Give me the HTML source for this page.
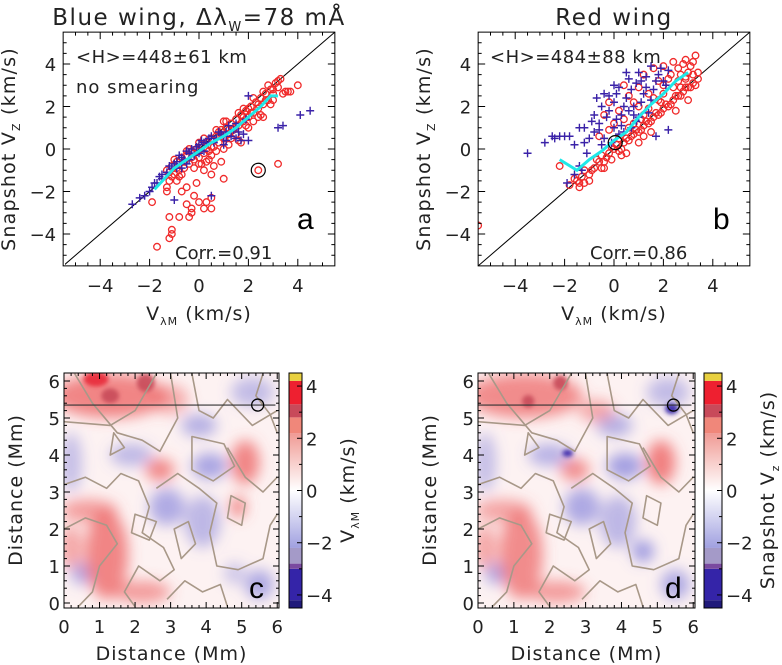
<!DOCTYPE html>
<html><head><meta charset="utf-8"><style>
html,body{margin:0;padding:0;background:#fff;}
svg{display:block;font-family:"DejaVu Sans","Liberation Sans",sans-serif;}
</style></head><body>
<svg id="fig" width="782" height="665" viewBox="0 0 782 665" xmlns="http://www.w3.org/2000/svg">
<defs>
<filter id="blur" x="-50%" y="-50%" width="200%" height="200%"><feGaussianBlur stdDeviation="7"/></filter>
<filter id="blur2" x="-50%" y="-50%" width="200%" height="200%"><feGaussianBlur stdDeviation="2"/></filter>
<clipPath id="clipc"><rect x="64" y="373" width="215" height="235"/></clipPath>
<clipPath id="clipd"><rect x="478" y="373" width="217" height="235"/></clipPath>
<clipPath id="clipa"><rect x="65" y="32" width="271" height="234"/></clipPath>
<clipPath id="clipb"><rect x="478" y="32" width="272" height="234"/></clipPath>
</defs>
<g id="root"></g>
</svg>
<script>
// ---- scatter data ----
const redA=[[-1.3,-1.0],[-1.2,-1.5],[-1.1,-0.8],[-1.0,-1.2],[-0.9,-0.6],[-0.8,-1.0],[-0.7,-0.4],[-0.6,-0.9],[-0.5,-0.3],[-0.4,-0.7],[-0.3,-0.1],[-0.2,-0.5],[-0.1,0.0],[0,-0.4],[0.1,0.2],[0.2,-0.2],[0.3,0.3],[0.4,-0.1],[0.5,0.5],[0.6,0.1],[0.7,0.6],[0.8,0.3],[0.9,0.9],[1.0,0.5],[1.1,1.0],[1.2,0.7],[1.3,1.2],[1.4,0.9],[1.5,1.4],[1.6,1.1],[1.7,1.6],[1.8,1.3],[1.9,1.8],[2.0,1.5],[2.1,2.0],[2.2,1.7],[2.3,2.2],[2.4,1.9],[2.5,2.4],[2.6,2.1],[2.7,2.6],[2.8,2.3],[2.9,2.8],[3.0,2.6],[3.1,3.1],[3.2,2.9],[3.3,3.3],[3.5,2.7],[3.7,2.7],[4.0,3.0],[1.0,1.3],[0.0,0.3],[-0.5,-0.1],[0.5,-0.3],[1.5,0.7],[2.0,1.0],[2.5,1.6],[-0.2,-0.2],[0.8,0.8],[1.8,1.9],[2.8,3.0],[0.3,-0.6],[-0.8,-1.3],[-1.3,-1.8],[-0.5,-1.8],[-0.7,-2.0],[-0.3,-2.8],[0,-2.5],[0.3,-2.5],[0.5,-2.3],[0.5,-2.8],[-0.5,-2.6],[-0.4,-3.2],[-0.8,-3.2],[-0.3,-3.0],[0.2,-2.8],[-1.2,-3.2],[-1.1,-3.8],[-1.1,-4.0],[-1.2,-4.2],[-1.7,-4.6],[-1.9,-2.5],[0.5,-1.2],[1.0,-1.4],[0.6,-0.8],[-0.1,-1.6],[3.2,-0.7],[2.4,-1.0],[-1.3,-2.0],[0.9,-0.6],[1.7,0.3],[2.2,1.3],[0.2,-1.0],[-0.2,-2.2],[1.2,0.2],[2.6,1.5],[3.0,2.3],[0.1,-0.7],[-0.9,-1.5]];
const redA2=[[-1.2,-1.1],[-0.9,-0.9],[-0.6,-0.6],[-0.3,-0.4],[0,-0.1],[0.3,0.0],[0.6,0.4],[0.9,0.6],[1.2,0.9],[1.5,1.1],[1.8,1.5],[2.1,1.7],[2.4,2.1],[2.7,2.3],[3.0,2.8],[-1.0,-0.5],[-0.4,0.0],[0.2,0.5],[0.7,0.9],[1.1,1.3],[1.6,1.7],[2.2,2.4],[2.6,2.7],[3.2,3.2],[-0.7,-1.2],[0.0,-0.7],[0.7,-0.1],[1.3,0.5],[1.9,1.1],[2.4,1.5],[3.4,2.6],[3.6,2.7],[1.6,0.4],[0.4,-0.5],[-0.2,-0.9],[2.9,2.1],[-1.1,-1.3],[1.0,0.0],[2.0,1.9],[0.5,0.1]];
const blueA=[[-2.7,-2.6],[-2.4,-2.3],[-2.2,-2.2],[-2,-2.0],[-1.9,-1.8],[-1.7,-1.6],[-1.5,-1.4],[-1.3,-1.1],[-1.1,-0.9],[-0.9,-0.6],[-0.8,-0.3],[-0.6,-0.5],[-0.5,-0.1],[-0.3,0.0],[-0.2,-0.3],[0,0.2],[0.1,0.4],[0.3,0.3],[0.5,0.6],[0.6,0.3],[0.8,0.8],[1.0,0.6],[1.2,1.1],[1.4,0.9],[1.6,0.8],[1.7,0.4],[1.8,0.7],[2.0,2.5],[2.0,0.4],[-1.0,-2.4],[0.5,-2.2],[3.2,1.0],[3.4,1.1],[4.1,1.6],[4.5,1.8],[-0.5,-0.7],[0.2,-0.1],[1.0,0.2],[-1.5,-1.2],[-0.7,-0.9]];
const blueA2=[[-1.8,-1.6],[-1.6,-1.3],[-1.2,-0.8],[-1.0,-0.7],[-0.7,-0.4],[-0.4,-0.2],[-0.1,0.1],[0.2,0.3],[0.4,0.5],[0.7,0.5],[0.9,0.7],[1.1,0.8],[1.3,0.6],[1.5,1.2],[1.9,1.4],[-0.4,-0.5],[-0.9,-0.9],[0.0,-0.2],[1.1,0.4],[1.5,0.5]];
const cyanA=[[-1.8,-1.9],[-1.4,-1.4],[-1.0,-0.9],[-0.5,-0.5],[0,-0.1],[0.5,0.3],[1.0,0.6],[1.5,1.0],[2.0,1.5],[2.5,2.0],[2.9,2.5],[3.2,2.5]];
const redB=[[-1.8,-1.7],[-1.5,-1.5],[-1.3,-1.3],[-1.0,-1.2],[-0.8,-0.9],[-0.6,-0.6],[-0.4,-0.6],[-0.2,-0.2],[0,0],[0.2,-0.1],[0.4,0.3],[0.6,0.4],[0.8,0.7],[1.0,0.8],[1.2,1.1],[1.4,1.2],[1.6,1.5],[1.8,1.6],[2.0,1.9],[2.2,2.0],[2.4,2.3],[2.6,2.5],[2.8,2.7],[3.0,2.9],[3.2,3.1],[3.4,3.3],[-0.4,-0.9],[0.2,0.5],[0.8,1.2],[1.4,1.9],[2.0,2.6],[2.6,3.2],[3.0,3.6],[3.2,4.1],[3.3,4.4],[2.8,4.0],[2.4,4.1],[2.0,3.9],[1.6,3.8],[1.2,3.5],[0.6,2.5],[0.2,1.8],[-0.4,1.6],[-0.2,2.2],[0.4,3.0],[1.0,2.9],[1.8,3.2],[2.3,3.5],[-2.2,-0.8],[-5.5,-3.6],[-0.6,0.6],[0,1.2],[1.5,0.8],[2.5,1.8],[3.0,2.3],[1.0,0.3],[-1.0,-1.5],[0.5,-0.2],[1.9,2.2],[2.7,2.9],[1.1,1.4],[-0.1,-0.5],[-1.2,-1.6],[2.9,3.3]];
const redB2=[[-1.6,-1.4],[-1.4,-1.6],[-1.2,-1.0],[-0.9,-1.0],[-0.7,-0.5],[-0.5,-0.3],[-0.3,-0.4],[-0.1,0.1],[0.1,0.2],[0.3,0.0],[0.5,0.5],[0.7,0.6],[0.9,0.9],[1.1,0.9],[1.3,1.3],[1.5,1.3],[1.7,1.7],[1.9,1.7],[2.1,2.1],[2.3,2.1],[2.5,2.5],[2.7,2.5],[2.9,2.9],[3.1,2.9],[3.3,3.0],[3.4,3.6],[0.6,1.0],[1.2,1.6],[1.8,2.3],[2.4,2.9],[2.9,3.4],[3.1,3.9],[2.6,3.8],[2.2,3.3],[1.4,2.6],[0.8,2.2],[0.4,1.4],[-0.2,0.9],[2.0,3.0],[1.6,2.4],[1.0,2.0],[3.2,3.5],[2.7,3.5],[2.9,4.2],[-1.4,-1.8],[-0.5,-0.9],[0.3,-0.3],[1.2,0.6]];
const blueB=[[-3.5,-0.2],[-2.8,0.3],[-2.5,0.6],[-2.2,0.6],[-2.0,0.6],[-1.8,0.6],[-1.4,1.0],[-1.0,0.5],[-1.2,0.3],[-0.8,0.8],[-0.6,1.2],[-0.5,2.0],[-0.3,1.5],[-0.2,2.5],[0,1.0],[0,2.2],[0.2,2.9],[0.3,1.6],[0.5,2.4],[0.6,3.3],[0.8,2.0],[0.9,3.1],[1.0,3.6],[1.2,2.6],[1.3,3.4],[1.5,3.9],[1.6,2.8],[1.8,3.5],[2.0,3.2],[2.2,3.7],[-1.4,-0.8],[-1.6,-1.2],[-1.9,-1.6],[1.7,0.6],[2.2,0.9],[-0.4,0.5],[0.4,0.8],[1.0,1.5],[-0.1,0.3],[0.7,1.0],[-0.7,2.4],[0.1,1.4],[-0.9,1.3]];
const blueB2=[[-1.2,1.0],[-0.8,1.6],[-0.6,0.9],[-0.4,2.6],[-0.2,1.8],[0.1,2.6],[0.2,0.7],[0.4,2.0],[0.5,3.6],[0.7,2.8],[0.8,1.6],[1.1,2.2],[1.1,3.2],[1.3,2.9],[1.4,1.7],[1.7,3.2],[1.9,3.8],[2.1,3.0],[-1.6,0.2],[-1.1,-0.2],[-0.5,0.2],[0.3,1.1],[0.9,1.3],[1.5,2.3],[-2.4,0.5],[-1.3,-1.0],[0.0,3.0],[0.6,1.8]];
const cyanB=[[-2.2,-0.5],[-1.5,-1.0],[-1.0,-0.5],[-0.5,-0.1],[0,0.4],[0.5,0.8],[1.0,1.5],[1.5,2.1],[2.0,2.6],[2.5,3.2],[3.0,3.6]];
const markA=[2.4,-1.0], markB=[0.05,0.3];
const scatterTicks=[-4,-2,0,2,4];
const mapTicks=[0,1,2,3,4,5,6];
const cbTicks=[-4,-2,0,2,4];
// ---- map blobs: [x Mm, y Mm, rx, ry, value km/s] ----
const blobsC=[[1.3,5.6,1.6,0.6,1.8],[0.9,6.05,0.35,0.2,3.8],[1.3,5.6,0.25,0.2,3.3],[2.3,5.95,0.25,0.25,3.1],[1.9,4.0,0.6,0.3,-1.0],[2.9,2.6,0.5,0.5,-1.4],[3.9,2.2,0.5,0.7,-1.0],[4.1,3.7,0.5,0.35,-1.6],[3.8,4.8,0.5,0.3,-1.3],[5.5,0.5,0.4,0.4,-1.5],[0.5,0.8,0.3,0.3,-1.5],[0.2,3.8,0.3,0.8,-0.8],[5.3,5.7,0.6,0.4,-0.9],[1.2,1.3,0.6,1.2,1.8],[2.7,3.6,0.4,0.3,1.8],[5.1,3.8,0.4,0.6,1.8],[0.7,2.5,0.8,0.3,1.2],[4.9,2.6,0.2,0.3,2.0],[2.2,0.3,0.8,0.3,1.2],[4.8,0.8,0.3,0.3,-0.6],[3.0,5.5,0.5,0.4,0.8],[0.2,1.5,0.3,0.6,1.0]];
const blobsD=[[1.3,5.6,1.6,0.6,1.6],[2.3,5.95,0.2,0.2,3.0],[1.4,5.45,0.17,0.17,3.0],[2.0,4.0,0.6,0.3,-1.2],[2.5,4.05,0.15,0.1,-4.2],[2.9,2.6,0.5,0.5,-1.5],[3.9,2.2,0.5,0.7,-1.0],[4.1,3.7,0.5,0.35,-1.8],[3.8,4.8,0.5,0.3,-1.3],[5.5,0.5,0.4,0.4,-1.5],[4.6,1.4,0.3,0.3,-2.0],[0.5,0.8,0.3,0.3,-1.5],[0.2,3.8,0.3,0.8,-0.8],[5.4,5.25,0.18,0.15,-4.0],[5.3,5.7,0.6,0.4,-0.9],[1.2,1.3,0.6,1.2,1.6],[2.7,3.6,0.4,0.3,1.6],[5.1,3.8,0.4,0.6,1.9],[0.7,2.5,0.8,0.3,1.0],[2.2,0.3,0.8,0.3,1.2],[3.3,5.2,0.5,0.3,0.9],[0.2,1.5,0.3,0.6,1.0]];
// colorbar bands: [from, to, color]
const cbBands=[[-4.5,-4.2,'#201a7a'],[-4.2,-3.0,'#3424a8'],[-3.0,-2.8,'#7a4aa0'],[-2.8,-2.2,'#a49ac8'],[2.2,2.8,'#f0877a'],[2.8,3.3,'#c84a5a'],[3.3,4.2,'#ee2030'],[4.2,4.5,'#e8d040']];

const NS='http://www.w3.org/2000/svg';
const root=document.getElementById('root');
function mk(tag,attrs,parent){const e=document.createElementNS(NS,tag);for(const k in attrs)e.setAttribute(k,attrs[k]);(parent||root).appendChild(e);return e;}
function txt(x,y,s,size,attrs,parent){const t=mk('text',Object.assign({x:x,y:y,'font-size':size,fill:'#222'},attrs||{}),parent);t.innerHTML=s;return t;}
const SUB=(s)=>'<tspan font-size="11" dy="5">'+s+'</tspan><tspan dy="-5">';

function scatter(name,x0,redP,blueP,cyanP,mark,clip){
  const X=v=>x0+v*24.7, Y=v=>149-v*21.25;
  const g=mk('g',{'clip-path':'url(#'+clip+')'});
  
  
  const diag=mk('line',{x1:X(-5.5),y1:Y(-5.5),x2:X(5.5),y2:Y(5.5),stroke:'#000','stroke-width':1},g);
  
  
  redP.forEach(p=>{const c=mk('circle',{cx:X(p[0]),cy:Y(p[1]),r:3.3,fill:'none',stroke:'#f02a2a','stroke-width':1.3},g);
    
    });
  blueP.forEach(p=>{const c=mk('path',{d:'M'+(X(p[0])-4)+' '+Y(p[1])+'h8M'+X(p[0])+' '+(Y(p[1])-4)+'v8',stroke:'#3a22a8','stroke-width':1.4},g);
    
    });
  const cl=mk('polyline',{points:cyanP.map(p=>X(p[0])+','+Y(p[1])).join(' '),fill:'none',stroke:'#20e8e8','stroke-width':3},g);
  
  
  const m=mk('circle',{cx:X(mark[0]),cy:Y(mark[1]),r:7,fill:'none',stroke:'#000','stroke-width':1.2},g);
  
  
  const box=mk('rect',{x:X(-5.5),y:Y(5.5),width:24.7*11,height:21.25*11,fill:'none',stroke:'#000','stroke-width':1});
  
  
  for(let v=-5;v<=5;v+=0.5){
    const L=Number.isInteger(v)&&v%2===0?7:3.5;
    mk('line',{x1:X(v),y1:Y(-5.5),x2:X(v),y2:Y(-5.5)-L,stroke:'#000'});
    mk('line',{x1:X(v),y1:Y(5.5),x2:X(v),y2:Y(5.5)+L,stroke:'#000'});
    mk('line',{x1:X(-5.5),y1:Y(v),x2:X(-5.5)+L,y2:Y(v),stroke:'#000'});
    mk('line',{x1:X(5.5),y1:Y(v),x2:X(5.5)-L,y2:Y(v),stroke:'#000'});}
  scatterTicks.forEach(v=>{
    const s=(v<0?'\u2212':'')+Math.abs(v);
    const a=txt(X(v),292,s,18,{'text-anchor':'middle'});
    const b=txt(X(-5.5)-7,Y(v)+7,s,18,{'text-anchor':'end'});
  });
  const xl=txt(X(0),320,'V'+SUB('λM')+' (km/s)</tspan>',19,{'text-anchor':'middle','letter-spacing':1});
  
  const yl=txt(0,0,'Snapshot V'+SUB('Z')+' (km/s)</tspan>',19,{'text-anchor':'middle','letter-spacing':1.2,transform:'translate('+(X(-5.5)-48)+',149) rotate(-90)'});
  
}
scatter('panel-a',199,redA.concat(redA2),blueA.concat(blueA2),cyanA,markA,'clipa');
scatter('panel-b',614,redB.concat(redB2),blueB.concat(blueB2),cyanB,markB,'clipb');
let t;
t=txt(199,25,'Blue wing,  Δλ<tspan font-size="13" dy="6">W</tspan><tspan dy="-6">=78 mÅ</tspan>',23,{'text-anchor':'middle','xml:space':'preserve','letter-spacing':1.5});
t=txt(614,25,'Red wing',23,{'text-anchor':'middle','letter-spacing':1.5});
t=txt(76,63,'&lt;H&gt;=448±61 km',18,{'letter-spacing':0.5});
t=txt(76,93,'no smearing',18,{'letter-spacing':1});
t=txt(490,63,'&lt;H&gt;=484±88 km',18,{'letter-spacing':0.5});
t=txt(175,259,'Corr.=0.91',18,{});
t=txt(590,259,'Corr.=0.86',18,{});
t=txt(297,229,'a',30,{'font-family':'Liberation Sans,sans-serif',fill:'#000'});
t=txt(713,229,'b',30,{'font-family':'Liberation Sans,sans-serif',fill:'#000'});

function col(v){
  if(v>=0){const a=Math.min(1,v/2.5);return 'rgba(236,90,90,'+(0.25+0.65*a)+')';}
  const a=Math.min(1,-v/2.5);return 'rgba(110,110,215,'+(0.2+0.6*a)+')';
}
function colStrong(v){ if(v>3.3)return '#e82838'; if(v>2.8)return '#c84a5a'; if(v<-3)return '#3424a8'; if(v<-2.2)return '#8a7ab8'; return null;}
function map(name,x0,w,blobs,clip,letter,cbx,cbw,cblabel){
  const X=v=>x0+v*w/6.05, Y=v=>603-v*37;
  const g=mk('g',{'clip-path':'url(#'+clip+')'});
  
  
  mk('rect',{x:x0,y:373,width:w,height:235,fill:'#fff'},g);
  mk('rect',{x:x0,y:373,width:w,height:235,fill:'rgba(240,150,150,0.12)'},g);
  const gb=mk('g',{filter:'url(#blur)'},g);
  blobs.forEach(b=>{if(colStrong(b[4]))return;const e=mk('ellipse',{cx:X(b[0]),cy:Y(b[1]),rx:b[2]*w/6,ry:b[3]*37,fill:col(b[4])},gb);
    
    });
  const gs=mk('g',{filter:'url(#blur2)'},g);
  blobs.forEach(b=>{const c=colStrong(b[4]);if(!c)return;const e=mk('ellipse',{cx:X(b[0]),cy:Y(b[1]),rx:b[2]*w/6,ry:b[3]*37,fill:c,opacity:0.9},gs);
    
    });
  const contours=['M0,4.9 L1.3,4.8 L2,5.2 L2.6,6.2','M0.3,6.2 L0.8,5.4 L1.5,4.6 L2.2,4.4 L2.7,4.1 L3.2,5.0 L3.0,6.2','M3.6,6.2 L3.8,5.2 L4.2,5.0 L4.6,5.5 L5.3,4.8 L6,5.2','M0,3.2 L0.6,3.4 L1.2,3.1 L1.6,3.5 L2.1,3.3 L2.4,2.6 L2.2,1.9 L2.8,1.5 L3.1,0.9 L2.7,0.6 L2.1,1.0 L1.7,0.3 L2.0,-0.1','M2.6,3.1 L3.2,3.5 L3.8,3.1 L4.3,2.7 L4.1,1.9 L4.3,1.0 L4.9,0.9 L5.6,1.2 L5.8,2.1 L6,2.4','M0,2.0 L0.6,2.3 L1.2,2.1 L1.5,1.6 L1.0,1.0 L0.8,0.3 L0.4,-0.1','M4.6,4.2 L5.1,3.4 L5.6,3.0 L6,3.4','M3.6,4.5 L4.5,4.3 L4.8,3.7 L4.2,3.3 L3.6,3.6 Z','M2.9,0.1 L3.4,0.6 L3.9,0.3 L4.4,0.5 L4.6,-0.1','M4.7,2.9 L5.1,2.7 L5.0,2.1 L4.6,2.3 Z','M5.6,6.2 L5.4,5.6 L5.8,5.1 L6,4.6','M2.0,2.4 L2.6,2.2 L2.4,1.7 L1.9,1.9 Z','M1.4,4.6 L1.7,4.2 L1.3,4.0 Z','M3.3,1.2 L3.7,1.6 L3.5,2.2 L3.1,2.0 Z'];
  contours.forEach(d=>{const p=mk('path',{d:d.replace(/([\d.\-]+),([\d.\-]+)/g,(m,a,b)=>X(+a)+','+Y(+b)),fill:'none',stroke:'#a89888','stroke-width':1.6,'stroke-linejoin':'round'},g);
    
    });
  const hl=mk('line',{x1:x0,y1:Y(5.35),x2:X(5.95),y2:Y(5.35),stroke:'#333','stroke-width':1.2},g);
  
  const mc=mk('circle',{cx:X(5.45),cy:Y(5.35),r:6,fill:'none',stroke:'#000','stroke-width':1.3},g);
  
  const box=mk('rect',{x:x0,y:373,width:w,height:235,fill:'none',stroke:'#000','stroke-width':1});
  
  for(let v=0;v<=6.01;v+=0.2){const L=Math.abs(v-Math.round(v))<0.01?6:3;
    mk('line',{x1:X(v),y1:608,x2:X(v),y2:608-L,stroke:'#000'});mk('line',{x1:X(v),y1:373,x2:X(v),y2:373+L,stroke:'#000'});
    mk('line',{x1:x0,y1:Y(v),x2:x0+L,y2:Y(v),stroke:'#000'});mk('line',{x1:x0+w,y1:Y(v),x2:x0+w-L,y2:Y(v),stroke:'#000'});}
  mapTicks.forEach(v=>{
    const a=txt(X(v),633,String(v),18,{'text-anchor':'middle'});
    const b=txt(x0-4,Y(v)+7,String(v),18,{'text-anchor':'end'});});
  let l=txt(x0+w/2,660,'Distance (Mm)',19,{'text-anchor':'middle','letter-spacing':1});
  l=txt(0,0,'Distance (Mm)',19,{'text-anchor':'middle','letter-spacing':1,transform:'translate('+(x0-42)+',490) rotate(-90)'});
  l=txt(x0+w-30,598,letter,30,{'font-family':'Liberation Sans,sans-serif',fill:'#000'});
  const CY=v=>490.5-v*(235/9);
  const gid='cbg'+name;
  const lg=mk('linearGradient',{id:gid,x1:0,y1:1,x2:0,y2:0},document.querySelector('defs'));
  [['0','#a0a0e0'],['0.5','#ffffff'],['1','#f09a94']].forEach(s=>mk('stop',{offset:s[0],'stop-color':s[1]},lg));
  const cb=mk('g',{});
  mk('rect',{x:cbx,y:CY(2.2),width:cbw,height:CY(-2.2)-CY(2.2),fill:'url(#'+gid+')'},cb);
  cbBands.forEach(b=>{const r=mk('rect',{x:cbx,y:CY(b[1]),width:cbw,height:CY(b[0])-CY(b[1]),fill:b[2]},cb);
    });
  mk('rect',{x:cbx,y:373,width:cbw,height:235,fill:'none',stroke:'#000'},cb);
  for(let v=-4;v<=4;v+=1){mk('line',{x1:cbx+cbw,y1:CY(v),x2:cbx+cbw-(v%2===0?5:3),y2:CY(v),stroke:'#000'},cb);}
  cbTicks.forEach(v=>{const a=txt(cbx+cbw+4,CY(v)+7,(v<0?'\u2212':'')+Math.abs(v),18,{});});
  l=txt(0,0,cblabel,19,{'text-anchor':'middle','letter-spacing':1,transform:'translate('+(cbx+cbw+52)+',490) rotate(-90)'});
}
map('panel-c',64,215,blobsC,'clipc','c',289,13,'V'+SUB('λM')+' (km/s)</tspan>');
map('panel-d',478,217,blobsD,'clipd','d',704,18,'Snapshot V'+SUB('z')+' (km/s)</tspan>');
</script>
</body></html>
